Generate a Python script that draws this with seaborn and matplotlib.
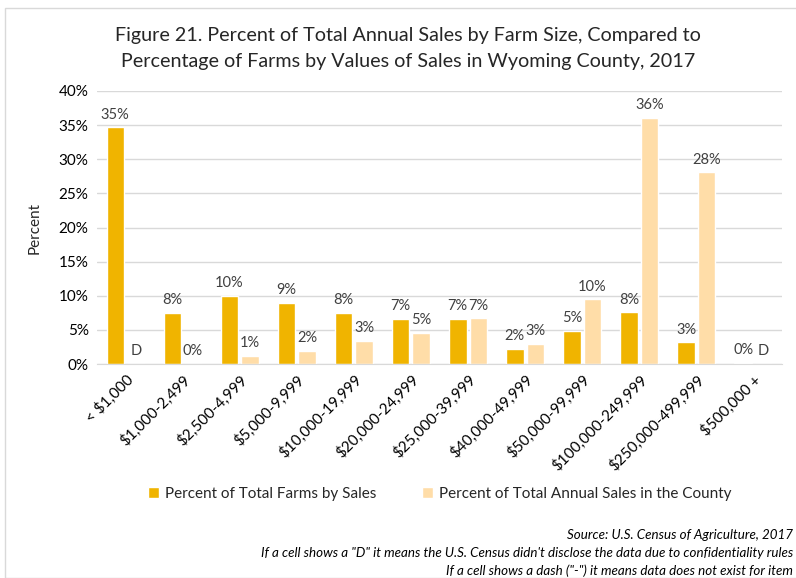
import numpy as np
import pandas as pd
import matplotlib
matplotlib.use('Agg')
import matplotlib.pyplot as plt
import seaborn as sns
from matplotlib.patches import Rectangle
from matplotlib.ticker import FuncFormatter

# 数据：按销售额分组的农场占比与销售额占比（%）
categories = ['< $1,000', '$1,000-2,499', '$2,500-4,999', '$5,000-9,999',
              '$10,000-19,999', '$20,000-24,999', '$25,000-39,999',
              '$40,000-49,999', '$50,000-99,999', '$100,000-249,999',
              '$250,000-499,999', '$500,000 +']
farms_pct = [34.7, 7.5, 10.0, 9.0, 7.5, 6.6, 6.6, 2.2, 4.9, 7.6, 3.2, 0.2]
# None = "D"（未公开）
sales_pct = [None, 0.0, 1.2, 1.9, 3.4, 4.6, 6.7, 3.0, 9.5, 36.1, 28.1, None]

series_names = ['Percent of Total Farms by Sales',
                'Percent of Total Annual Sales in the County']
colors = ['#F0B400', '#FFDDA8']

sns.set_style('white')
plt.rcParams['font.family'] = ['Lato', 'DejaVu Sans']

df = pd.DataFrame({
    'category': categories * 2,
    'value': [v for v in farms_pct] + [0.0 if v is None else v for v in sales_pct],
    'series': [series_names[0]] * len(categories) + [series_names[1]] * len(categories),
})
raw = [farms_pct, sales_pct]

fig = plt.figure(figsize=(7.96, 5.78), dpi=100)
ax = fig.add_axes([97 / 796, 1 - 364 / 578, (782 - 97) / 796, (364 - 91) / 578])

sns.barplot(data=df, x='category', y='value', hue='series', palette=colors,
            width=0.72, gap=0.15, ax=ax, legend=True, saturation=1)

# 数据标签
for container, vals in zip(ax.containers, raw):
    for bar, v in zip(container, vals):
        txt = 'D' if v is None else f'{v:.0f}%'
        ax.annotate(txt, (bar.get_x() + bar.get_width() / 2, bar.get_height()),
                    xytext=(0, 4), textcoords='offset points',
                    ha='center', va='bottom', fontsize=10.5, color='#404040')

ax.set_ylim(0, 40)
ax.set_yticks(np.arange(0, 41, 5))
ax.yaxis.set_major_formatter(FuncFormatter(lambda y, _: f'{y:.0f}%'))
ax.set_xlim(-0.5, len(categories) - 0.5)
ax.grid(axis='y', color='#D9D9D9', linewidth=1)
ax.set_axisbelow(True)
for s in ['top', 'right', 'left']:
    ax.spines[s].set_visible(False)
ax.spines['bottom'].set_color('#D9D9D9')
ax.tick_params(axis='both', length=0, labelsize=11, colors='#000000', pad=6)
plt.setp(ax.get_xticklabels(), rotation=45, ha='right', rotation_mode='anchor')
ax.set_xlabel('')
ax.set_ylabel('Percent', fontsize=11, labelpad=12)

ax.legend(loc='upper center', bbox_to_anchor=(0.5, -0.40), ncol=2, frameon=False,
          fontsize=11, handlelength=0.7, handleheight=0.7, handletextpad=0.4,
          columnspacing=3.0)

fig.text(408 / 796, 1 - 35 / 578,
         'Figure 21. Percent of Total Annual Sales by Farm Size, Compared to',
         ha='center', va='center', fontsize=14.2)
fig.text(408 / 796, 1 - 62 / 578,
         'Percentage of Farms by Values of Sales in Wyoming County, 2017',
         ha='center', va='center', fontsize=14.2)

notes = ['Source: U.S. Census of Agriculture, 2017',
         'If a cell shows a "D" it means the U.S. Census didn\'t disclose the data due to confidentiality rules',
         'If a cell shows a dash ("-") it means data does not exist for item']
for i, n in enumerate(notes):
    fig.text(793 / 796, 1 - (535 + 18 * i) / 578, n, ha='right', va='center',
             fontsize=9.6, style='italic', color='#000000')

fig.patches.append(Rectangle((5 / 796, 0), 1, 1 - 8 / 578, transform=fig.transFigure,
                             fill=False, edgecolor='#D9D9D9', linewidth=1))

fig.savefig('out.png', dpi=100)
